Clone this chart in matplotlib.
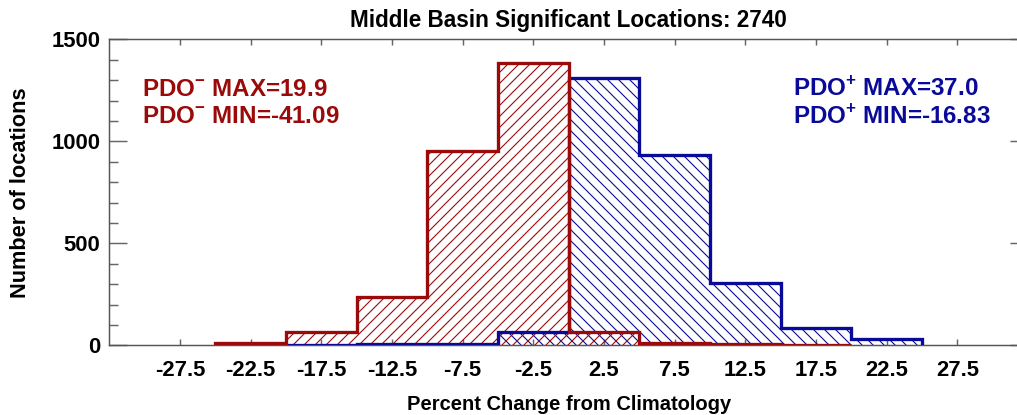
import numpy as np
import matplotlib.pyplot as plt
from matplotlib.ticker import MultipleLocator

DPI = 132
plt.rcParams.update({
    "font.family": "Liberation Sans",
    "font.weight": "bold",
    "mathtext.fontset": "custom",
    "mathtext.rm": "Liberation Sans:bold",
    "mathtext.bf": "Liberation Sans:bold",
    "hatch.linewidth": 0.6,
})

# histogram bins (percent change from climatology), width 5
bin_edges = [-25, -20, -15, -10, -5, 0, 5, 10, 15, 20, 25]
pdo_neg = [12, 64, 235, 954, 1384, 67, 13, 8, 3, 0]
pdo_pos = [0, 2, 4, 7, 63, 1310, 932, 306, 85, 31]

tick_vals = [-27.5, -22.5, -17.5, -12.5, -7.5, -2.5, 2.5, 7.5, 12.5, 17.5, 22.5, 27.5]
title = "Middle Basin Significant Locations: 2740"
neg_lines = [r"PDO$^{-}$ MAX=19.9", r"PDO$^{-}$ MIN=-41.09"]
pos_lines = [r"PDO$^{+}$ MAX=37.0", r"PDO$^{+}$ MIN=-16.83"]

RED = "#9a0a0a"
BLUE = "#0a0a98"


def trim(edges, vals):
    # drop empty leading/trailing bins so the outline stops like the original
    e = np.array(edges, dtype=float)
    v = np.array(vals, dtype=float)
    nz = np.nonzero(v)[0]
    i0, i1 = nz[0], nz[-1] + 1
    return e[i0:i1 + 1], v[i0:i1]


fig = plt.figure(figsize=(1017 / DPI, 415 / DPI), dpi=DPI)
ax = fig.add_axes([109.3 / 1017, 69.7 / 415, (1028 - 109.3) / 1017, (345.3 - 39.3) / 415])

# hatch spacing ~11 px at this dpi
for vals, col, hatch, z in [(pdo_pos, BLUE, "\\" * 4, 2), (pdo_neg, RED, "////", 3)]:
    e, v = trim(bin_edges, vals)
    ax.bar(e[:-1], v, width=np.diff(e), align="edge", facecolor="none",
           edgecolor=col, hatch=hatch, linewidth=0, zorder=z)
    ax.stairs(v, e, baseline=0, color=col, linewidth=1.8, zorder=z + 2)

ax.set_xlim(-32.5, 32.5)
ax.set_ylim(0, 1500)
ax.set_xticks(tick_vals)
ax.set_xticklabels([f"{t:g}" for t in tick_vals])
ax.yaxis.set_major_locator(MultipleLocator(500))
ax.yaxis.set_minor_locator(MultipleLocator(100))

ax.tick_params(axis="x", which="major", direction="in", length=3.3, width=0.8,
               color="#666666", top=True, pad=8, labelsize=12)
ax.tick_params(axis="y", which="major", direction="in", length=10, width=0.8,
               color="#666666", right=True, pad=5, labelsize=12)
ax.tick_params(axis="y", which="minor", direction="in", length=5, width=0.8,
               color="#666666", right=True)
for sp in ax.spines.values():
    sp.set_color("#555555")
    sp.set_linewidth(0.8)

ax.set_title(title, fontsize=12.3, fontweight="bold", pad=6.5)
ax.set_xlabel("Percent Change from Climatology", fontsize=11, fontweight="bold", labelpad=7.5)
ax.set_ylabel("Number of locations", fontsize=11.9, fontweight="bold", labelpad=11)

for i, s in enumerate(neg_lines):
    ax.text(141.7 / 1017, 1 - (95.7 + 27.6 * i) / 415, s, transform=fig.transFigure,
            color=RED, fontsize=13.2, fontweight="bold", ha="left", va="baseline")
for i, s in enumerate(pos_lines):
    ax.text(792.7 / 1017, 1 - (95.7 + 27.6 * i) / 415, s, transform=fig.transFigure,
            color=BLUE, fontsize=13.2, fontweight="bold", ha="left", va="baseline")

fig.savefig("out.png", dpi=DPI)
